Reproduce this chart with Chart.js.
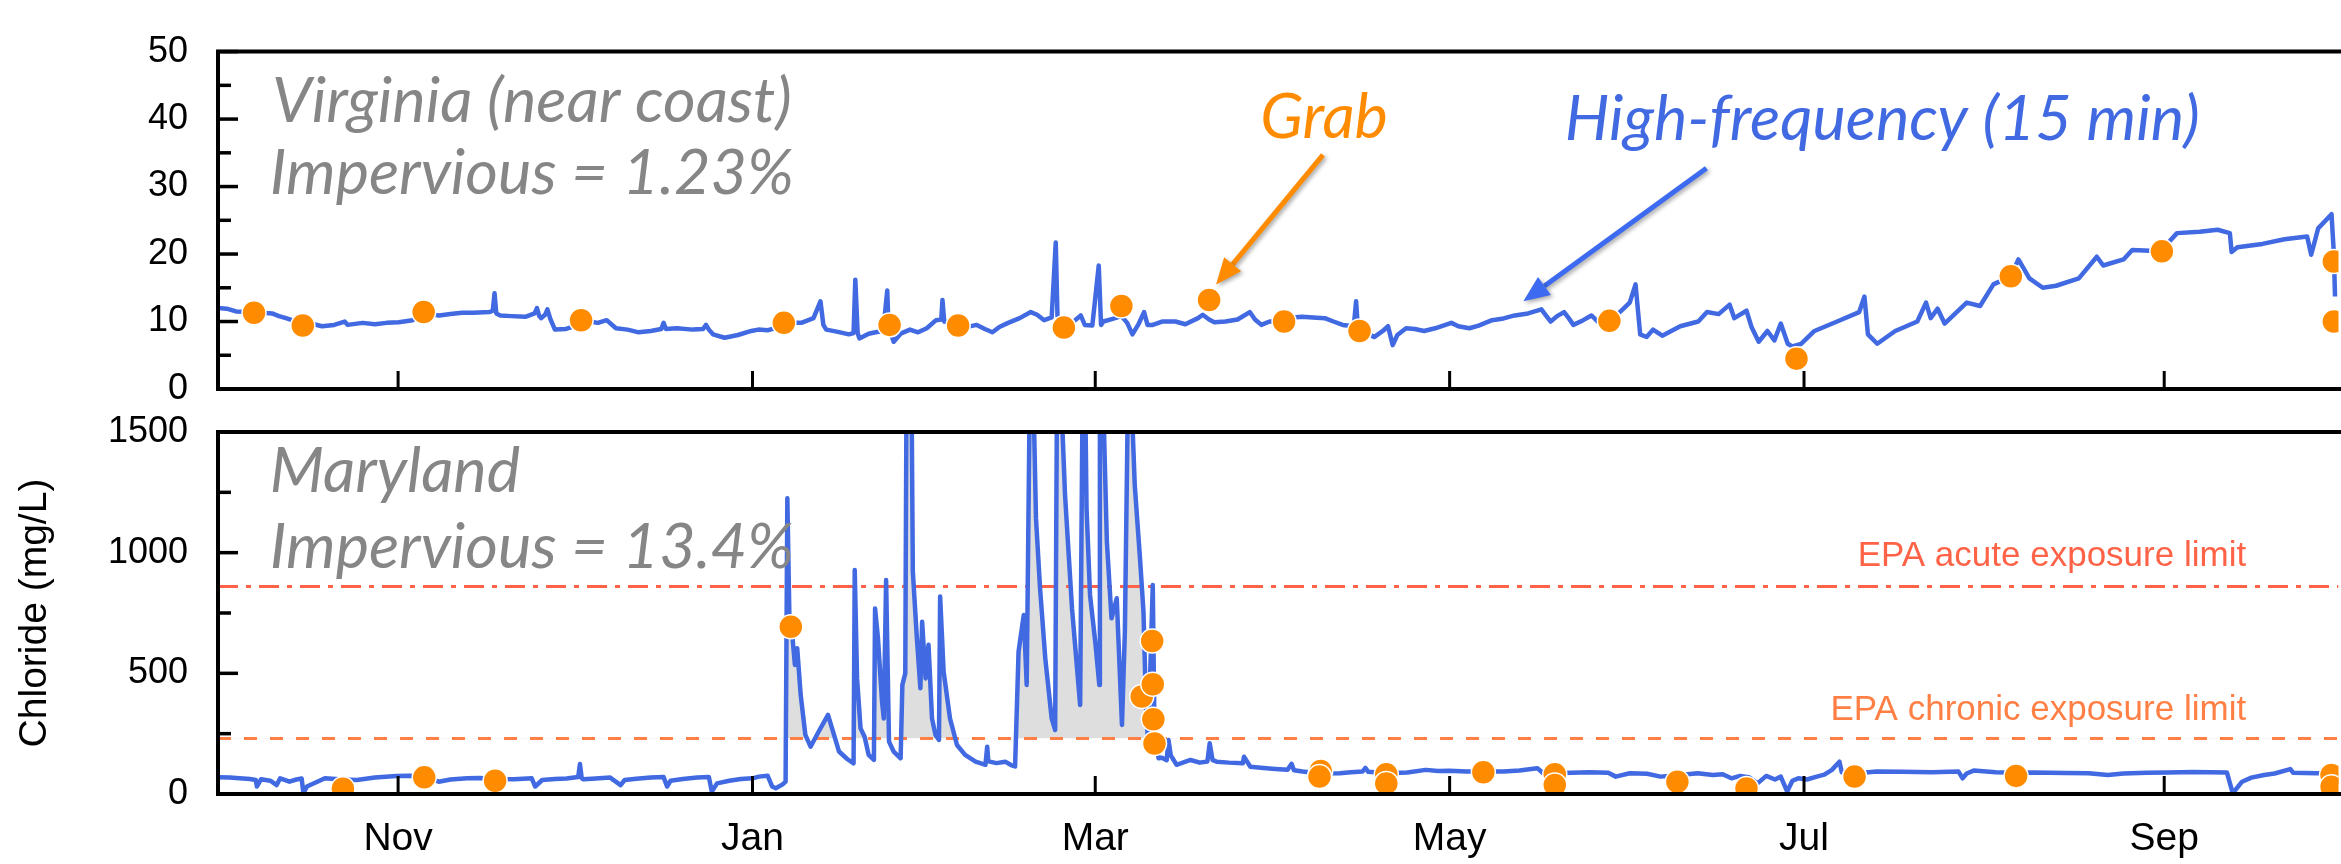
<!DOCTYPE html>
<html>
<head>
<meta charset="utf-8">
<script src="https://cdn.jsdelivr.net/npm/chart.js@4.4.1/dist/chart.umd.min.js"></script>
<style>
  html, body { margin: 0; padding: 0; background: #fff; overflow: hidden; }
  #wrap { position: relative; width: 2341px; height: 864px; overflow: hidden; }
  .box { position: absolute; left: 0; top: 0; width: 2352px; height: 864px; }
</style>
</head>
<body>
<div id="wrap">
  <div class="box"><canvas id="vaChart"></canvas></div>
  <div class="box"><canvas id="mdChart"></canvas></div>
</div>
<script>
// x axis is days since Oct 1
const monthTickDays = [31, 92, 151, 212, 273, 335];
const monthTickLabels = ['Nov', 'Jan', 'Mar', 'May', 'Jul', 'Sep'];

// Virginia, high-frequency sensor (mg/L)
const vaDays = [0, 1.5, 3.1, 6.2, 9.3, 10.5, 11.7, 13.5, 14.6, 16.5, 17.9, 20, 21.8, 22.3, 24.9, 27, 29, 31.1, 33.5, 35.4,
  38.1, 40, 42, 44, 46.7, 47.3, 47.6, 47.9, 48.6, 50.5, 52.9, 54.5, 54.9, 55.3, 55.6, 56.3, 56.7, 57.2, 58, 59.9,
  61, 62.5, 64, 65.4, 66.9, 68.5, 70.5, 72.4, 74.5, 76.3, 76.7, 77.1, 79, 81.7, 83.5, 84, 84.5, 85.2, 87.2, 89.5,
  91.8, 93, 94.6, 95.5, 97.4, 99, 100.4, 102.5, 103.7, 104.2, 104.7, 106.5, 108.6, 109.4, 109.7, 110.1, 110.4, 112, 113.2, 114.5,
  115.2, 115.4, 116.3, 117.5, 119.1, 120.5, 122, 123.6, 124.5, 124.7, 125, 126.5, 127.4, 129, 130.6, 132, 133.3, 134.5, 136, 138,
  139.9, 141, 142.2, 143.5, 144.2, 144.5, 145.6, 147, 148.5, 149.2, 150.5, 151.6, 152, 152.4, 154, 155.5, 156.5, 157.4, 158.5, 159.4,
  160, 160.9, 162.5, 164.8, 166.5, 168.7, 169.5, 170.6, 171.5, 173.4, 175.5, 177.6, 178.5, 179.6, 181, 183.5, 185, 186.6, 188.5, 190.5,
  192, 193.6, 195.5, 195.9, 196.2, 196.5, 198, 199, 200.5, 201.4, 202.2, 203, 204.5, 206, 207.6, 209.5, 212.3, 213.5, 215.4, 217,
  219.3, 221, 223.2, 225.5, 227.8, 228.5, 229.4, 230.5, 231.7, 232.5, 233.3, 235, 236.4, 237.5, 238.5, 239.5, 240.5, 241.8, 243, 244,
  244.8, 245.9, 247, 248.6, 251.7, 254.8, 256.3, 258.3, 260.2, 261, 263.1, 264, 265.2, 266.7, 267.9, 269, 270.2, 271, 272.5, 274.8,
  278.7, 282.5, 283.4, 284, 285.6, 288.7, 292.5, 294, 294.8, 296, 297.2, 301, 303.3, 305.6, 308.6, 309.9, 311.8, 314.1, 316.4, 320.3,
  323.4, 324.5, 328, 329.5, 334.6, 335.5, 337.2, 341.1, 344.2, 346.3, 346.6, 347.6, 351.9, 355.7, 359.6, 360.3, 361.5, 363.8, 364.2, 364.4];
const vaChloride = [12.0, 11.9, 11.5, 11.4, 11.2, 10.8, 10.5, 10.0, 9.5, 9.6, 9.3, 9.5, 10.0, 9.5, 9.8, 9.6, 9.8, 9.9, 10.2, 11.2,
  10.9, 11.1, 11.3, 11.3, 11.4, 11.6, 14.2, 11.2, 10.9, 10.8, 10.7, 11.2, 12.0, 10.8, 10.5, 11.0, 11.8, 10.4, 8.8, 8.9,
  9.2, 10.2, 10.0, 9.8, 10.2, 9.0, 8.8, 8.4, 8.6, 8.9, 9.8, 8.9, 9.0, 8.8, 8.9, 9.5, 8.8, 8.1, 7.6, 8.0,
  8.6, 8.8, 8.7, 8.9, 9.8, 9.8, 9.8, 10.5, 13.0, 9.5, 8.8, 8.5, 8.1, 8.3, 16.2, 8.3, 7.5, 8.2, 8.4, 8.6,
  14.6, 9.4, 7.0, 8.2, 8.8, 8.4, 9.0, 10.2, 10.3, 13.2, 10.0, 9.8, 9.4, 9.2, 9.5, 8.9, 8.4, 9.2, 9.8, 10.5,
  11.4, 11.0, 10.2, 10.6, 21.7, 10.8, 9.3, 9.8, 10.9, 9.5, 9.4, 18.3, 9.5, 10.0, 10.4, 10.8, 9.8, 8.1, 9.7, 11.4,
  9.5, 9.5, 10.0, 10.0, 9.6, 10.5, 11.0, 10.3, 9.9, 10.0, 10.3, 11.4, 10.3, 9.5, 10.0, 10.0, 10.6, 10.7, 10.6, 10.5,
  10.0, 9.5, 9.3, 13.0, 9.2, 8.6, 8.2, 7.7, 8.6, 9.3, 6.5, 8.0, 9.0, 8.9, 8.6, 9.0, 9.8, 9.3, 9.0, 9.4,
  10.2, 10.4, 10.9, 11.2, 11.8, 11.0, 10.0, 10.8, 11.4, 10.5, 9.5, 10.2, 10.9, 10.0, 9.6, 10.3, 10.8, 11.8, 12.8, 15.5,
  8.1, 7.7, 8.8, 7.9, 9.3, 10.0, 11.4, 11.1, 12.5, 10.5, 11.6, 9.1, 7.0, 8.6, 7.2, 9.7, 6.7, 6.3, 6.7, 8.6,
  10.0, 11.4, 13.7, 8.1, 6.7, 8.6, 10.0, 12.8, 10.5, 11.9, 9.7, 12.8, 12.3, 15.5, 16.7, 19.2, 16.4, 15.0, 15.3, 16.4,
  19.6, 18.3, 19.2, 20.6, 20.4, 21.5, 23.1, 23.3, 23.6, 23.1, 20.3, 21.0, 21.5, 22.2, 22.6, 19.9, 23.8, 25.9, 20.1, 13.7];

// Virginia, grab samples
const vaGrabDays = [6.2, 14.6, 35.4, 62.5, 97.4, 115.6, 127.4, 145.6, 155.5, 170.6, 183.5, 196.5, 239.5, 271.7, 308.6, 334.6, 364.2, 364.2];
const vaGrabChloride = [11.3, 9.4, 11.4, 10.2, 9.8, 9.5, 9.4, 9.1, 12.3, 13.2, 10.0, 8.6, 10.1, 4.5, 16.7, 20.4, 18.9, 10.0];

// Maryland, high-frequency sensor (mg/L)
const mdDays = [0, 2, 3.7, 5.5, 6.5, 6.7, 7.4, 9, 10.1, 10.7, 12.3, 13.5, 14.4, 14.7, 15.3, 17, 18.4, 21.5, 23.9, 27,
  30.7, 33, 35.5, 38, 40, 42.9, 45, 47.7, 50.9, 52.5, 54, 54.6, 55.8, 58, 60, 62, 62.3, 62.6, 62.9, 65,
  67.5, 69.3, 70, 72, 74.5, 76.7, 77.3, 77.9, 80, 82.5, 84.5, 85, 85.9, 88, 90, 92, 93.1, 94.6, 95.4, 96,
  97.2, 97.7, 98, 98.4, 98.9, 99.3, 99.7, 100.3, 101.1, 102, 103.4, 105, 106.9, 108.3, 109.4, 109.6, 110, 110.6, 111.3, 112,
  112.9, 113.1, 113.6, 114.3, 114.6, 115, 115.5, 116.3, 117.5, 117.8, 118.3, 118.5, 119.4, 119.6, 120.3, 120.9, 121.2, 121.8, 122.3, 122.9,
  123.5, 124.1, 124.3, 124.9, 126, 127.2, 128.6, 130.4, 132.1, 132.4, 132.6, 134, 135.5, 136.5, 137.2, 137.8, 138.7, 139.2, 139.7, 140.4,
  140.8, 141.5, 142.4, 143.5, 144.1, 144.4, 145.2, 145.8, 147, 148.4, 148.8, 149.3, 149.5, 150.1, 151, 151.7, 151.8, 152.4, 153, 153.8,
  154.7, 155.6, 156.1, 156.6, 157.3, 157.8, 158.7, 159.3, 159.7, 160.1, 160.9, 161.2, 161.9, 162.5, 163.3, 163.6, 164, 165, 167.4, 169,
  170.3, 170.7, 171.2, 171.9, 174, 176.4, 176.6, 177.7, 180, 182, 184.1, 184.8, 185.2, 186.7, 189.6, 193.1, 195, 197, 197.5, 198,
  201.1, 204.7, 207.9, 210, 212, 214.9, 217.8, 221.3, 224, 227.1, 228, 230.1, 233, 236, 239.3, 240.6, 243, 246, 248.3, 251.2,
  254.7, 257.3, 259, 260.5, 262, 263.5, 265, 266.5, 268, 269, 270.1, 271, 272, 273.5, 275.2, 276.5, 277.8, 279.1, 279.5, 281.7,
  285.5, 290, 295, 299.6, 300.3, 301, 302.2, 306, 309.5, 312.5, 318, 322, 325.3, 328, 332, 335.5, 340, 345.8, 346.8, 348.4,
  350, 352.2, 354, 356.7, 357.2, 361.2, 364.4];
const mdChloride = [69, 68, 65, 62, 58, 31, 61, 55, 37, 65, 51, 60, 64, 3, 31, 50, 65, 60, 58, 68,
  75, 76, 72, 51, 60, 65, 66, 62, 61, 63, 65, 31, 58, 62, 64, 70, 124, 66, 61, 64,
  68, 37, 58, 63, 68, 70, 31, 55, 62, 68, 70, 10, 44, 55, 62, 65, 72, 76, 31, 24,
  40, 51, 1225, 672, 645, 535, 604, 410, 245, 196, 259, 328, 176, 145, 127, 928, 479, 272, 237, 162,
  141, 769, 645, 382, 313, 887, 217, 176, 148, 452, 500, 1600, 1600, 921, 645, 438, 714, 479, 618, 313,
  245, 224, 818, 507, 313, 203, 162, 134, 121, 196, 135, 128, 134, 120, 114, 590, 742, 452, 1600, 1600,
  1142, 852, 562, 313, 265, 1600, 1600, 1239, 769, 369, 1600, 1600, 1184, 825, 631, 452, 1600, 1600, 1046, 728,
  811, 286, 673, 1600, 1600, 1280, 977, 756, 396, 203, 866, 259, 148, 150, 140, 224, 160, 121, 141, 130,
  135, 210, 140, 134, 130, 127, 154, 113, 108, 104, 100, 125, 98, 93, 85, 86, 90, 93, 108, 92,
  86, 89, 100, 95, 96, 93, 93, 93, 97, 107, 88, 86, 88, 90, 88, 72, 86, 84, 72, 78,
  86, 79, 82, 65, 75, 70, 44, 75, 60, 72, 10, 55, 65, 60, 72, 80, 100, 134, 90, 85,
  93, 92, 90, 93, 65, 85, 97, 90, 88, 89, 87, 86, 79, 85, 88, 89, 91, 89, 3, 51,
  68, 79, 85, 103, 88, 86, 84];

// Maryland, grab samples
const mdGrabDays = [21.5, 35.5, 47.7, 98.6, 159.0, 160.8, 160.9, 161.0, 161.2, 189.8, 189.6, 201.1, 201.1, 217.8, 230.1, 230.1, 251.2, 263.1, 281.7, 309.5, 363.8, 363.8];
const mdGrabChloride = [22, 69, 55, 693, 404, 634, 455, 310, 209, 95, 72, 82, 44, 90, 82, 37, 51, 23, 72, 75, 79, 30];

// EPA limits (mg/L)
const acuteLimit = 860;
const chronicLimit = 230;

const BLUE = '#4169E1';
const ORANGE = '#FF8C00';
const GRAY_TEXT = '#868686';
const ACUTE_COL = '#FF6347';
const CHRONIC_COL = '#FF7F45';

Chart.defaults.font.family = '"Liberation Sans", Arial, Helvetica, sans-serif';
Chart.defaults.color = '#000';

function toPoints(xs, ys) {
  return xs.map((x, i) => ({ x: x, y: ys[i] }));
}

function drawArrow(ctx, x1, y1, x2, y2, color) {
  const ang = Math.atan2(y2 - y1, x2 - x1);
  const head = 26, half = 11;
  const bx = x2 - head * Math.cos(ang), by = y2 - head * Math.sin(ang);
  ctx.save();
  ctx.shadowColor = 'rgba(0,0,0,0.35)';
  ctx.shadowBlur = 4;
  ctx.shadowOffsetX = 2;
  ctx.shadowOffsetY = 2;
  ctx.strokeStyle = color;
  ctx.fillStyle = color;
  ctx.lineWidth = 5;
  ctx.beginPath();
  ctx.moveTo(x1, y1);
  ctx.lineTo(bx, by);
  ctx.stroke();
  ctx.beginPath();
  ctx.moveTo(x2, y2);
  ctx.lineTo(bx + half * Math.sin(ang), by - half * Math.cos(ang));
  ctx.lineTo(bx - half * Math.sin(ang), by + half * Math.cos(ang));
  ctx.closePath();
  ctx.fill();
  ctx.restore();
}

// frame, inward ticks and text notes
function makeOverlay(notes, arrows) {
  return {
    id: 'overlay',
    afterDatasetsDraw(chart) {
      const { ctx, chartArea: a, scales: { x, y } } = chart;
      ctx.save();
      ctx.strokeStyle = '#000';
      ctx.lineCap = 'butt';
      // y ticks: major + minor in between
      ctx.lineWidth = 3.5;
      const yt = y.ticks.map(t => t.value);
      yt.forEach((v, i) => {
        const py = y.getPixelForValue(v);
        ctx.beginPath(); ctx.moveTo(a.left, py); ctx.lineTo(a.left + 20, py); ctx.stroke();
        if (i < yt.length - 1) {
          const pm = y.getPixelForValue((v + yt[i + 1]) / 2);
          ctx.beginPath(); ctx.moveTo(a.left, pm); ctx.lineTo(a.left + 13, pm); ctx.stroke();
        }
      });
      // x ticks
      ctx.lineWidth = 3;
      x.ticks.forEach(t => {
        const px = x.getPixelForValue(t.value);
        ctx.beginPath(); ctx.moveTo(px, a.bottom); ctx.lineTo(px, a.bottom - 18); ctx.stroke();
      });
      // frame
      ctx.lineWidth = 4;
      ctx.beginPath();
      ctx.moveTo(a.right + 10, a.top);
      ctx.lineTo(a.left, a.top);
      ctx.lineTo(a.left, a.bottom);
      ctx.lineTo(a.right + 10, a.bottom);
      ctx.stroke();
      ctx.restore();
    },
    afterDraw(chart) {
      const { ctx, scales: { x, y } } = chart;
      ctx.save();
      arrows.forEach(ar => {
        drawArrow(ctx, x.getPixelForValue(ar.from[0]), y.getPixelForValue(ar.from[1]),
          x.getPixelForValue(ar.to[0]), y.getPixelForValue(ar.to[1]), ar.color);
      });
      notes.forEach(n => {
        ctx.font = n.font;
        ctx.fillStyle = n.color;
        ctx.textAlign = n.align || 'left';
        ctx.textBaseline = 'alphabetic';
        ctx.fillText(n.text, x.getPixelForValue(n.at[0]), y.getPixelForValue(n.at[1]));
      });
      ctx.restore();
    }
  };
}

const NOTE_FONT = 'italic 63px Lato, "Open Sans", sans-serif';
const EPA_FONT = '35px "Liberation Sans", Arial, sans-serif';

function xScale(showLabels) {
  return {
    type: 'linear',
    min: 0,
    max: 365,
    afterBuildTicks: s => { s.ticks = monthTickDays.map(v => ({ value: v })); },
    afterFit: s => { s.height = showLabels ? 70 : 0; },
    grid: { display: false, drawTicks: false },
    border: { display: false },
    ticks: {
      display: showLabels,
      autoSkip: false,
      maxRotation: 0,
      padding: 22,
      font: { size: 39 },
      color: '#000',
      callback: v => monthTickLabels[monthTickDays.indexOf(v)]
    }
  };
}

function yTicks(step) {
  return { stepSize: step, padding: 30, font: { size: 36 }, color: '#000', callback: v => String(v) };
}

function grabDataset(xs, ys) {
  return {
    label: 'Grab',
    data: toPoints(xs, ys),
    showLine: false,
    pointRadius: 12,
    pointBackgroundColor: ORANGE,
    pointBorderColor: '#fff',
    pointBorderWidth: 1.5,
    clip: 0
  };
}

function build() {
  new Chart(document.getElementById('vaChart'), {
    type: 'line',
    data: {
      datasets: [
        grabDataset(vaGrabDays, vaGrabChloride),
        {
          label: 'High-frequency',
          data: toPoints(vaDays, vaChloride),
          borderColor: BLUE,
          borderWidth: 4.5,
          borderJoinStyle: 'round',
          pointRadius: 0,
          tension: 0,
          fill: false
        }
      ]
    },
    options: {
      responsive: true,
      maintainAspectRatio: false,
      animation: false,
      events: [],
      layout: { padding: { left: 0, right: 9, top: 27, bottom: 475 } },
      plugins: { legend: { display: false }, tooltip: { enabled: false } },
      scales: {
        x: xScale(false),
        y: {
          min: 0,
          max: 50,
          afterFit: s => { s.width = 218; },
          grid: { display: false, drawTicks: false },
          border: { display: false },
          ticks: yTicks(10)
        }
      }
    },
    plugins: [makeOverlay(
      [
        { text: 'Virginia (near coast)', at: [9.3, 39.5], font: NOTE_FONT, color: GRAY_TEXT },
        { text: 'Impervious = 1.23%', at: [8.9, 28.9], font: NOTE_FONT, color: GRAY_TEXT },
        { text: 'Grab', at: [179.4, 37.2], font: NOTE_FONT, color: ORANGE },
        { text: 'High-frequency (15 min)', at: [231.8, 36.9], font: NOTE_FONT, color: BLUE }
      ],
      [
        { from: [190.2, 34.7], to: [171.8, 15.5], color: ORANGE },
        { from: [256.2, 32.7], to: [224.7, 13.0], color: '#3C6AF0' }
      ]
    )]
  });

  new Chart(document.getElementById('mdChart'), {
    type: 'line',
    data: {
      datasets: [
        grabDataset(mdGrabDays, mdGrabChloride),
        {
          label: 'High-frequency',
          data: toPoints(mdDays, mdChloride),
          borderColor: BLUE,
          borderWidth: 4.5,
          borderJoinStyle: 'round',
          pointRadius: 0,
          tension: 0,
          fill: { target: { value: chronicLimit }, above: '#DEDEDE', below: 'rgba(0,0,0,0)' }
        },
        {
          label: 'EPA acute exposure limit',
          data: [{ x: 0, y: acuteLimit }, { x: 365, y: acuteLimit }],
          borderColor: ACUTE_COL,
          borderWidth: 3,
          borderDash: [20, 8, 5, 8],
          pointRadius: 0,
          fill: false
        },
        {
          label: 'EPA chronic exposure limit',
          data: [{ x: 0, y: chronicLimit }, { x: 365, y: chronicLimit }],
          borderColor: CHRONIC_COL,
          borderWidth: 3,
          borderDash: [13, 13],
          pointRadius: 0,
          fill: false
        }
      ]
    },
    options: {
      responsive: true,
      maintainAspectRatio: false,
      animation: false,
      events: [],
      layout: { padding: { left: 0, right: 9, top: 432, bottom: 0 } },
      plugins: {
        legend: { display: false },
        tooltip: { enabled: false },
        filler: { drawTime: 'beforeDatasetsDraw' }
      },
      scales: {
        x: xScale(true),
        y: {
          min: 0,
          max: 1500,
          afterFit: s => { s.width = 218; },
          grid: { display: false, drawTicks: false },
          border: { display: false },
          ticks: yTicks(500),
          title: {
            display: true,
            text: 'Chloride (mg/L)',
            font: { size: 39 },
            color: '#000',
            padding: { top: 12, bottom: 0 }
          }
        }
      }
    },
    plugins: [makeOverlay(
      [
        { text: 'Maryland', at: [8.9, 1252], font: NOTE_FONT, color: GRAY_TEXT },
        { text: 'Impervious = 13.4%', at: [8.9, 937], font: NOTE_FONT, color: GRAY_TEXT },
        { text: 'EPA acute exposure limit', at: [349.1, 946], font: EPA_FONT, color: ACUTE_COL, align: 'right' },
        { text: 'EPA chronic exposure limit', at: [349.1, 307], font: EPA_FONT, color: CHRONIC_COL, align: 'right' }
      ],
      []
    )]
  });
}

if (document.fonts && document.fonts.load) {
  Promise.all([
    document.fonts.load(NOTE_FONT),
    document.fonts.load(EPA_FONT)
  ]).then(build, build);
} else {
  build();
}
</script>
</body>
</html>
